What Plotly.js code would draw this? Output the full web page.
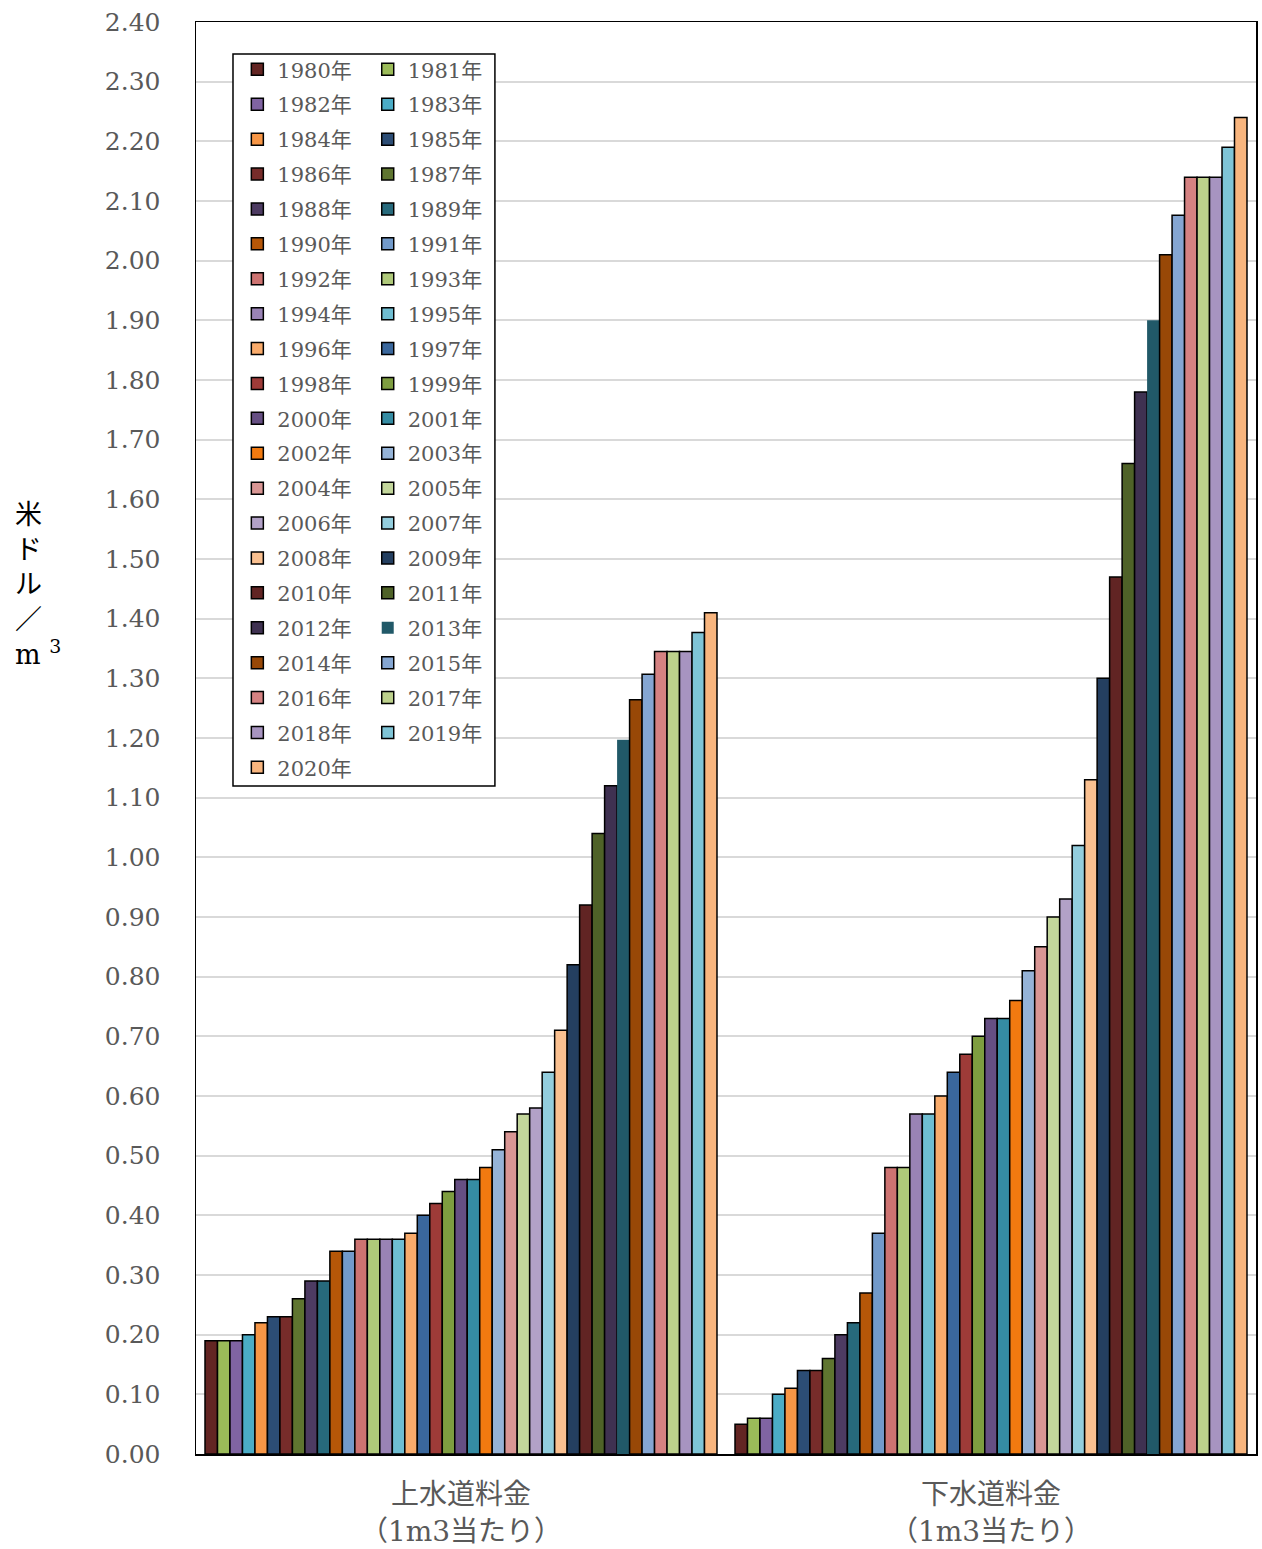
<!DOCTYPE html>
<html><head><meta charset="utf-8">
<script src="https://cdn.plot.ly/plotly-3.0.1.min.js"></script>
<style>body{margin:0;background:#fff}#chart{width:1262px;height:1549px}</style>
</head><body><div id="chart"></div>
<script>
const years = [1980,1981,1982,1983,1984,1985,1986,1987,1988,1989,1990,1991,1992,1993,1994,1995,1996,1997,1998,1999,2000,2001,2002,2003,2004,2005,2006,2007,2008,2009,2010,2011,2012,2013,2014,2015,2016,2017,2018,2019,2020];
const categories = ['上水道料金<br>（1m3当たり）', '下水道料金<br>（1m3当たり）'];
const waterRates = [0.19,0.19,0.19,0.20,0.22,0.23,0.23,0.26,0.29,0.29,0.34,0.34,0.36,0.36,0.36,0.36,0.37,0.40,0.42,0.44,0.46,0.46,0.48,0.51,0.54,0.57,0.58,0.64,0.71,0.82,0.92,1.04,1.12,1.197,1.264,1.307,1.345,1.345,1.345,1.377,1.41];
const sewerRates = [0.05,0.06,0.06,0.10,0.11,0.14,0.14,0.16,0.20,0.22,0.27,0.37,0.48,0.48,0.57,0.57,0.60,0.64,0.67,0.70,0.73,0.73,0.76,0.81,0.85,0.90,0.93,1.02,1.13,1.30,1.47,1.66,1.78,1.90,2.01,2.076,2.14,2.14,2.14,2.19,2.24];
const colors = ['#632523','#9BBB59','#8064A2','#4BACC6','#F79646','#2C4D75','#772C2A','#5F7530','#4D3B62','#276A7C',
  '#B65708','#729ACA','#CD7371','#AFC97A','#9983B5','#6FBDD1','#F9AB6B','#3A679C','#9E3B38','#7E9D40',
  '#664F83','#358CA3','#F27A10','#95B3D7','#D99694','#C3D69B','#B2A1C7','#93CDDD','#FAC090','#243F60',
  '#612423','#4F6228','#3F3151','#215968','#984807','#85A6D2','#D58282','#BDD18C','#A794C0','#7FC4D6','#F8B57E'];
const noOutlineYears = [2013];

const traces = years.map((yr, i) => ({
  type: 'bar',
  name: yr + '年',
  x: categories,
  y: [waterRates[i], sewerRates[i]],
  marker: {color: colors[i], line: {color: '#000000', width: noOutlineYears.includes(yr) ? 0 : 1.5}},
  legend: (yr % 2 === 0) ? 'legend' : 'legend2',
  legendgroup: 'g' + yr,
  hoverinfo: 'skip'
}));

const fontFam = '"DejaVu Serif", "Noto Sans CJK JP", serif';
const legendCommon = {
  xanchor: 'left', yanchor: 'top', bgcolor: 'rgba(0,0,0,0)', borderwidth: 0,
  font: {size: 21, color: '#595959', family: fontFam}, tracegroupgap: 4.6, itemwidth: 30
};

const layout = {
  width: 1262, height: 1549,
  margin: {l: 196, r: 6, t: 22, b: 95},
  paper_bgcolor: '#ffffff', plot_bgcolor: '#ffffff',
  barmode: 'group', bargap: 0.034, bargroupgap: 0,
  font: {family: fontFam, color: '#595959'},
  showlegend: true,
  xaxis: {showline: true, linecolor: '#000', linewidth: 1.5, mirror: true, ticks: '',
    tickfont: {size: 28, color: '#595959'}, ticklabelstandoff: 15, showgrid: false},
  yaxis: {range: [0, 2.4], dtick: 0.1, tickformat: '.2f', showgrid: true, gridcolor: '#D9D9D9', gridwidth: 2,
    showline: true, linecolor: '#000', linewidth: 1.5, mirror: true, ticks: '', zeroline: false,
    tickfont: {size: 25, color: '#595959'}, ticklabelstandoff: 29},
  legend: Object.assign({x: 0.039, y: 0.981}, legendCommon),
  legend2: Object.assign({x: 0.162, y: 0.981}, legendCommon),
  shapes: [{type: 'rect', xref: 'paper', yref: 'paper', x0: 0.0349, x1: 0.282, y0: 0.4665, y1: 0.9777,
    line: {color: '#000', width: 1.5}, fillcolor: '#ffffff', layer: 'above'}],
  annotations: [{xref: 'paper', yref: 'paper', x: -0.1726, y: 0.607, xanchor: 'left', yanchor: 'middle', align: 'left',
    showarrow: false, text: '米<br>ド<br>ル<br>／<br>m <sup>3</sup>', font: {size: 27, color: '#000', family: fontFam}}]
};

Plotly.newPlot('chart', traces, layout, {displayModeBar: false, staticPlot: true});
</script></body></html>
